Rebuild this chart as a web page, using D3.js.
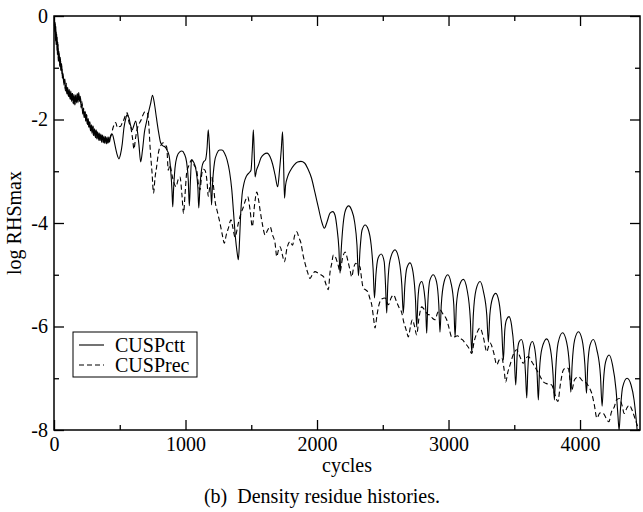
<!DOCTYPE html>
<html>
<head>
<meta charset="utf-8">
<script src="https://cdn.jsdelivr.net/npm/d3@7/dist/d3.min.js"></script>
<style>
  html, body { margin: 0; padding: 0; background: #fff; }
  svg { display: block; }
  svg text { font-family: "Liberation Serif", "Times New Roman", Times, "DejaVu Serif", serif !important; fill: #000; }
</style>
</head>
<body>
<svg id="chart" width="643" height="512"></svg>
<script>
// ---------------- DATA ----------------
const xTicksMajor = [0, 1000, 2000, 3000, 4000];
const xTicksMinor = [500, 1500, 2500, 3500];
const yTicksMajor = [0, -2, -4, -6, -8];
const yTicksMinor = [-1, -3, -5, -7];
const seriesNames = ["CUSPctt", "CUSPrec"];
const xLabel = "cycles";
const yLabel = "log RHSmax";
const caption = "(b)\u00a0\u00a0Density residue histories.";

// CUSPctt: [cycle, log RHSmax]
const cuspCtt = [
[0,0],[3,-0.05],[5,-0.30],[8,-0.12],[11,-0.45],[14,-0.20],[17,-0.55],[21,-0.35],[25,-0.72],[29,-0.50],
[33,-0.85],[38,-0.68],[43,-0.95],[48,-0.80],[53,-1.05],[58,-0.92],[63,-1.18],[68,-1.10],[74,-1.30],[80,-1.22],
[86,-1.42],[92,-1.33],[98,-1.50],[104,-1.38],[110,-1.55],[116,-1.42],[122,-1.60],[128,-1.45],[134,-1.65],[140,-1.50],
[146,-1.68],[152,-1.52],[158,-1.70],[164,-1.55],[170,-1.68],[176,-1.52],[182,-1.66],[188,-1.48],[194,-1.62],[200,-1.55],
[206,-1.75],[212,-1.70],[218,-1.88],[224,-1.80],[230,-1.95],[236,-1.84],[242,-2.02],[248,-1.90],[254,-2.10],[260,-1.98],
[266,-2.15],[272,-2.04],[278,-2.22],[284,-2.10],[290,-2.25],[296,-2.12],[302,-2.30],[308,-2.18],[314,-2.33],[320,-2.20],
[326,-2.36],[332,-2.24],[338,-2.38],[344,-2.26],[350,-2.40],[356,-2.28],[362,-2.42],[368,-2.30],[374,-2.44],[380,-2.32],
[386,-2.45],[392,-2.33],[398,-2.46],[404,-2.34],[410,-2.46],[416,-2.35],[422,-2.44],[428,-2.36],
[433,-2.32],[443,-2.28],[456,-2.40],[468,-2.55],[479,-2.67],[494,-2.76],[506,-2.67],[519,-2.47],[532,-2.16],
[545,-1.99],[555,-1.91],[570,-1.97],[582,-2.11],[595,-2.20],[608,-2.11],[621,-2.03],[635,-2.24],[646,-2.49],[659,-2.82],
[673,-2.59],[688,-2.24],[703,-2.05],[719,-1.86],[734,-1.70],[749,-1.53],[764,-1.70],[779,-1.97],[795,-2.24],[811,-2.45],
[829,-2.51],[844,-2.53],[859,-2.59],[875,-2.70],[886,-2.94],[897,-3.36],[903,-3.69],[909,-3.36],[920,-2.94],[935,-2.72],
[954,-2.63],[973,-2.61],[992,-2.67],[1008,-2.82],[1021,-3.17],[1029,-3.67],[1037,-3.21],[1046,-2.78],[1061,-2.82],[1080,-2.98],
[1094,-3.32],[1101,-3.71],[1110,-3.29],[1125,-2.92],[1137,-2.82],[1152,-2.78],[1164,-2.55],[1173,-2.20],[1183,-2.59],[1198,-3.65],
[1205,-3.27],[1221,-2.82],[1240,-2.65],[1259,-2.59],[1278,-2.59],[1297,-2.65],[1316,-2.78],[1335,-3.01],[1352,-3.36],[1365,-3.79],
[1380,-4.29],[1392,-4.56],[1402,-4.71],[1411,-4.33],[1419,-3.85],[1430,-3.46],[1445,-3.23],[1464,-3.09],[1483,-3.03],[1498,-2.98],
[1508,-2.59],[1516,-2.20],[1523,-2.69],[1529,-3.11],[1540,-2.98],[1555,-2.88],[1574,-2.74],[1597,-2.67],[1620,-2.65],[1643,-2.72],
[1662,-2.86],[1681,-3.07],[1701,-3.30],[1715,-2.98],[1728,-2.59],[1738,-2.24],[1746,-2.88],[1753,-3.52],[1761,-3.27],[1776,-3.11],
[1799,-2.98],[1825,-2.88],[1852,-2.82],[1878,-2.81],[1905,-2.84],[1932,-2.96],[1958,-3.13],[1985,-3.42],[2011,-3.71],[2034,-3.96],
[2056,-4.10],[2076,-3.98],[2099,-3.81],[2120,-3.78],[2137,-3.85],[2152,-4.10],[2166,-4.48],[2175,-4.97],[2184,-4.52],[2198,-4.04],
[2217,-3.75],[2240,-3.67],[2263,-3.75],[2286,-3.98],[2304,-4.43],[2315,-5.02],[2327,-4.52],[2342,-4.14],[2366,-4.04],[2389,-4.12],
[2412,-4.43],[2427,-4.91],[2437,-5.45],[2448,-5.00],[2464,-4.68],[2488,-4.60],[2511,-4.75],[2521,-5.20],[2530,-5.74],[2538,-5.20],
[2555,-4.72],[2593,-4.52],[2624,-4.72],[2645,-5.20],[2656,-5.74],[2668,-5.20],[2683,-4.87],[2707,-4.77],[2730,-4.95],[2749,-5.49],
[2758,-6.01],[2767,-5.49],[2779,-5.20],[2796,-5.13],[2813,-5.29],[2827,-5.68],[2834,-6.13],[2842,-5.58],[2859,-5.10],[2884,-5.00],
[2909,-5.14],[2926,-5.58],[2935,-6.11],[2945,-5.58],[2966,-5.14],[2994,-5.00],[3019,-5.16],[3040,-5.58],[3050,-6.20],[3060,-5.58],
[3084,-5.20],[3113,-5.09],[3141,-5.29],[3166,-5.87],[3177,-6.51],[3188,-5.80],[3209,-5.29],[3240,-5.13],[3266,-5.33],[3291,-5.78],
[3303,-6.30],[3314,-5.78],[3335,-5.45],[3359,-5.36],[3384,-5.53],[3405,-6.07],[3417,-6.65],[3428,-6.07],[3441,-5.87],[3460,-5.81],
[3479,-5.97],[3498,-6.45],[3511,-7.13],[3522,-6.55],[3536,-6.30],[3554,-6.25],[3573,-6.45],[3586,-6.94],[3595,-7.38],[3603,-6.84],
[3618,-6.40],[3637,-6.29],[3657,-6.45],[3674,-6.94],[3683,-7.42],[3692,-6.84],[3711,-6.42],[3747,-6.24],[3776,-6.45],[3795,-6.94],
[3805,-7.42],[3815,-6.84],[3833,-6.32],[3867,-6.12],[3898,-6.30],[3919,-6.74],[3930,-7.27],[3940,-6.74],[3959,-6.26],[3988,-6.10],
[4016,-6.26],[4037,-6.74],[4049,-7.29],[4059,-6.74],[4076,-6.36],[4101,-6.25],[4128,-6.45],[4155,-6.94],[4168,-7.54],[4179,-7.03],
[4194,-6.69],[4221,-6.55],[4247,-6.74],[4274,-7.23],[4288,-7.71],[4297,-8.00],[4307,-7.61],[4324,-7.17],[4358,-7.00],[4388,-7.13],
[4411,-7.42],[4426,-7.77],[4436,-8.05]
];

// CUSPrec: [cycle, log RHSmax]
const cuspRec = [
[0,0],[3,-0.08],[6,-0.26],[9,-0.15],[12,-0.48],[15,-0.28],[18,-0.58],[22,-0.40],[26,-0.75],[30,-0.55],
[34,-0.88],[39,-0.72],[44,-0.98],[49,-0.84],[54,-1.08],[59,-0.96],[64,-1.20],[69,-1.12],[75,-1.33],[81,-1.20],
[87,-1.45],[93,-1.30],[99,-1.52],[105,-1.40],[111,-1.58],[117,-1.44],[123,-1.62],[129,-1.48],[135,-1.62],[141,-1.47],
[147,-1.70],[153,-1.55],[159,-1.72],[165,-1.52],[171,-1.65],[177,-1.50],[183,-1.68],[189,-1.52],[195,-1.65],[201,-1.58],
[207,-1.78],[213,-1.66],[219,-1.90],[225,-1.78],[231,-1.98],[237,-1.86],[243,-2.05],[249,-1.92],[255,-2.12],[261,-2.00],
[267,-2.18],[273,-2.06],[279,-2.24],[285,-2.12],[291,-2.28],[297,-2.14],[303,-2.32],[309,-2.20],[315,-2.35],[321,-2.22],
[327,-2.38],[333,-2.26],[339,-2.40],[345,-2.28],[351,-2.42],[357,-2.30],[363,-2.44],[369,-2.32],[375,-2.45],[381,-2.34],
[387,-2.46],[393,-2.35],[399,-2.47],[405,-2.36],[411,-2.45],[417,-2.34],[423,-2.42],[429,-2.32],
[437,-2.28],[449,-2.16],[469,-2.06],[483,-2.16],[494,-2.14],[507,-2.13],[521,-2.05],[532,-2.00],[544,-1.91],
[557,-1.87],[570,-2.05],[583,-2.14],[597,-2.36],[608,-2.57],[620,-2.36],[633,-2.18],[646,-2.09],[662,-2.01],[677,-1.91],
[692,-1.85],[710,-1.87],[721,-2.11],[732,-2.59],[745,-3.01],[757,-3.42],[768,-3.13],[781,-2.90],[795,-2.63],[811,-2.51],
[829,-2.45],[844,-2.49],[857,-2.53],[869,-2.98],[882,-2.88],[897,-3.07],[913,-3.23],[928,-3.30],[943,-3.17],[958,-3.11],
[973,-3.46],[985,-3.81],[996,-3.46],[1009,-3.03],[1027,-2.88],[1047,-2.78],[1065,-2.88],[1085,-2.98],[1099,-3.27],[1110,-3.36],
[1125,-3.03],[1136,-2.96],[1148,-2.98],[1164,-3.21],[1173,-3.48],[1186,-3.27],[1199,-3.11],[1212,-3.27],[1224,-3.56],[1243,-3.79],
[1262,-4.00],[1280,-4.23],[1295,-4.39],[1310,-4.23],[1326,-4.10],[1346,-3.94],[1361,-4.10],[1376,-4.27],[1402,-4.00],[1422,-3.81],
[1440,-3.69],[1456,-3.56],[1473,-3.49],[1491,-3.75],[1508,-4.07],[1525,-3.65],[1542,-3.40],[1556,-3.56],[1567,-3.75],[1586,-4.04],
[1605,-4.23],[1624,-4.14],[1643,-4.07],[1662,-4.23],[1681,-4.39],[1694,-4.65],[1707,-4.52],[1719,-4.46],[1737,-4.62],[1752,-4.75],
[1772,-4.48],[1795,-4.36],[1814,-4.43],[1829,-4.25],[1846,-4.17],[1863,-4.29],[1878,-4.39],[1894,-4.62],[1909,-4.78],[1928,-4.95],
[1947,-5.07],[1966,-4.99],[1985,-4.94],[2008,-4.97],[2030,-5.00],[2050,-5.04],[2065,-5.16],[2086,-5.29],[2099,-4.95],[2112,-4.78],
[2124,-4.62],[2141,-4.66],[2160,-4.81],[2175,-4.94],[2194,-4.68],[2213,-4.56],[2238,-4.77],[2251,-4.91],[2264,-5.04],[2278,-4.87],
[2294,-4.78],[2312,-4.81],[2327,-4.85],[2340,-5.10],[2352,-5.26],[2369,-5.29],[2386,-5.33],[2401,-5.45],[2416,-5.58],[2430,-5.84],
[2441,-6.03],[2456,-5.78],[2471,-5.58],[2492,-5.47],[2517,-5.45],[2543,-5.58],[2563,-5.45],[2582,-5.39],[2606,-5.53],[2625,-5.64],
[2645,-5.74],[2659,-5.91],[2670,-6.00],[2683,-6.11],[2694,-6.20],[2710,-6.01],[2725,-5.87],[2741,-5.99],[2758,-6.16],[2775,-5.84],
[2796,-5.62],[2818,-5.68],[2840,-5.76],[2859,-5.78],[2878,-5.84],[2897,-5.87],[2916,-5.74],[2935,-5.68],[2958,-5.76],[2986,-5.87],
[3004,-6.03],[3024,-6.20],[3045,-6.20],[3068,-6.18],[3088,-6.23],[3107,-6.26],[3126,-6.32],[3153,-6.41],[3177,-6.52],[3194,-6.30],
[3215,-6.13],[3240,-6.03],[3266,-6.22],[3291,-6.49],[3305,-6.38],[3316,-6.32],[3342,-6.49],[3367,-6.74],[3384,-6.65],[3405,-6.61],
[3421,-6.80],[3435,-7.07],[3451,-6.88],[3468,-6.74],[3491,-6.55],[3519,-6.45],[3544,-6.59],[3569,-6.71],[3590,-6.61],[3607,-6.58],
[3635,-6.69],[3671,-6.84],[3696,-6.96],[3721,-7.07],[3753,-7.11],[3785,-7.13],[3806,-7.29],[3831,-7.45],[3852,-7.09],[3873,-6.84],
[3894,-6.80],[3911,-6.81],[3924,-7.03],[3937,-7.23],[3958,-7.03],[3988,-6.97],[4019,-7.05],[4051,-7.10],[4072,-7.19],[4089,-7.29],
[4109,-7.52],[4128,-7.77],[4152,-7.67],[4177,-7.68],[4198,-7.77],[4219,-7.84],[4239,-7.65],[4261,-7.55],[4277,-7.42],[4299,-7.39],
[4319,-7.52],[4336,-7.68],[4357,-7.57],[4375,-7.52],[4395,-7.61],[4413,-7.74],[4434,-7.90],[4452,-8.05]
];

// ---------------- CHART ----------------
const FONT = '"Liberation Serif", "Times New Roman", Times, "DejaVu Serif", serif';
const svg = d3.select("#chart");
const L = 54, R = 640, T = 16, B = 430;
const x = d3.scaleLinear().domain([0, 4456]).range([L, R]);
const y = d3.scaleLinear().domain([-8, 0]).range([B, T]);

svg.append("defs").append("clipPath").attr("id", "plotclip")
  .append("rect").attr("x", L).attr("y", T).attr("width", R - L).attr("height", B - T);

const line = d3.line().x(d => x(d[0])).y(d => y(d[1])).curve(d3.curveMonotoneX);

const plot = svg.append("g").attr("clip-path", "url(#plotclip)");
plot.append("path").datum(cuspRec)
  .attr("fill", "none").attr("stroke", "#000").attr("stroke-width", 1.1)
  .attr("stroke-dasharray", "5,3").attr("d", line);
plot.append("path").datum(cuspCtt)
  .attr("fill", "none").attr("stroke", "#000").attr("stroke-width", 1.1)
  .attr("d", line);

function styleAxis(g) {
  g.attr("font-family", FONT).attr("font-size", 20);
  g.select(".domain").remove();
  g.selectAll("line").attr("stroke", "#000").attr("stroke-width", 1.3);
  g.selectAll("text").attr("font-size", 20).attr("font-family", FONT).attr("fill", "#000");
}

// bottom
svg.append("g").attr("transform", `translate(0,${B})`)
  .call(d3.axisBottom(x).tickValues(xTicksMajor).tickSize(-10).tickPadding(7).tickFormat(d => String(d)))
  .call(styleAxis);
svg.append("g").attr("transform", `translate(0,${B})`)
  .call(d3.axisBottom(x).tickValues(xTicksMinor).tickSize(-5).tickFormat(""))
  .call(styleAxis);
// top
svg.append("g").attr("transform", `translate(0,${T})`)
  .call(d3.axisTop(x).tickValues(xTicksMajor).tickSize(-10).tickFormat(""))
  .call(styleAxis);
svg.append("g").attr("transform", `translate(0,${T})`)
  .call(d3.axisTop(x).tickValues(xTicksMinor).tickSize(-5).tickFormat(""))
  .call(styleAxis);
// left
svg.append("g").attr("transform", `translate(${L},0)`)
  .call(d3.axisLeft(y).tickValues(yTicksMajor).tickSize(-10).tickPadding(6).tickFormat(d => String(d)))
  .call(styleAxis);
svg.append("g").attr("transform", `translate(${L},0)`)
  .call(d3.axisLeft(y).tickValues(yTicksMinor).tickSize(-5).tickFormat(""))
  .call(styleAxis);
// right
svg.append("g").attr("transform", `translate(${R},0)`)
  .call(d3.axisRight(y).tickValues(yTicksMajor).tickSize(-10).tickFormat(""))
  .call(styleAxis);
svg.append("g").attr("transform", `translate(${R},0)`)
  .call(d3.axisRight(y).tickValues(yTicksMinor).tickSize(-5).tickFormat(""))
  .call(styleAxis);

// frame
svg.append("rect").attr("x", L).attr("y", T).attr("width", R - L).attr("height", B - T)
  .attr("fill", "none").attr("stroke", "#000").attr("stroke-width", 1.5);

// labels
svg.append("text").attr("x", (L + R) / 2).attr("y", 472).attr("text-anchor", "middle")
  .attr("font-family", FONT).attr("font-size", 20).text(xLabel);
svg.append("text").attr("transform", `translate(21,${(T + B) / 2}) rotate(-90)`)
  .attr("text-anchor", "middle").attr("font-family", FONT).attr("font-size", 20).text(yLabel);
svg.append("text").attr("x", 322).attr("y", 503).attr("text-anchor", "middle")
  .attr("font-family", FONT).attr("font-size", 20).text(caption);

// legend
const lg = svg.append("g");
lg.append("rect").attr("x", 73).attr("y", 332).attr("width", 124).attr("height", 45)
  .attr("fill", "#fff").attr("stroke", "#000").attr("stroke-width", 1);
const legendRows = [
  { name: seriesNames[0], dash: null, yy: 345 },
  { name: seriesNames[1], dash: "5,3", yy: 365 }
];
legendRows.forEach(r => {
  lg.append("line").attr("x1", 79).attr("x2", 104).attr("y1", r.yy).attr("y2", r.yy)
    .attr("stroke", "#000").attr("stroke-width", 1.1)
    .attr("stroke-dasharray", r.dash);
  lg.append("text").attr("x", 115).attr("y", r.yy + 7)
    .attr("font-family", FONT).attr("font-size", 20).text(r.name);
});
</script>
</body>
</html>
